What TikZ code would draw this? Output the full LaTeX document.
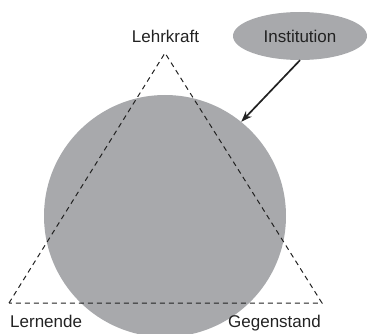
\documentclass[tikz,border=0pt]{standalone}
\usepackage{fontspec}
\setmainfont{Liberation Sans}
\usepackage{xcolor}
\usepackage{tikz}
\usetikzlibrary{shapes.geometric,arrows.meta}

\definecolor{flaeche}{HTML}{A8A9AC}
\definecolor{strich}{HTML}{222222}

\begin{document}
\begin{tikzpicture}[x=1pt, y=-1pt,
    beschriftung/.style={font=\fontsize{17}{20}\selectfont, text=strich, inner sep=0pt},
    ecke/.style={strich, dashed, dash pattern=on 5pt off 4pt, line width=1pt}]
  \useasboundingbox (0,0) rectangle (367,334);
  \clip (0,0) rectangle (367,334);

  % Kreis
  \node[circle, fill=flaeche, minimum size=242pt, inner sep=0pt] (kreis) at (165,216) {};

  % Dreieck
  \coordinate (oben) at (165,53);
  \coordinate (links) at (9,303);
  \coordinate (rechts) at (322,303);
  \draw[ecke] (links) -- (oben) -- (rechts) -- cycle;

  % Ecken
  \node[beschriftung, anchor=base] (lehrkraft) at (165.5,42.7) {Lehrkraft};
  \node[beschriftung, anchor=base west] (lernende) at (10,327) {Lernende};
  \node[beschriftung, anchor=base east] (gegenstand) at (321,327) {Gegenstand};

  % Institution
  \node[ellipse, fill=flaeche, minimum width=134pt, minimum height=48pt, beschriftung] (institution) at (300,36) {Institution};
  \draw[-{Stealth[length=11pt, width=8pt]}, strich, line width=1.7pt] (institution.south) -- (kreis.51);
\end{tikzpicture}
\end{document}
